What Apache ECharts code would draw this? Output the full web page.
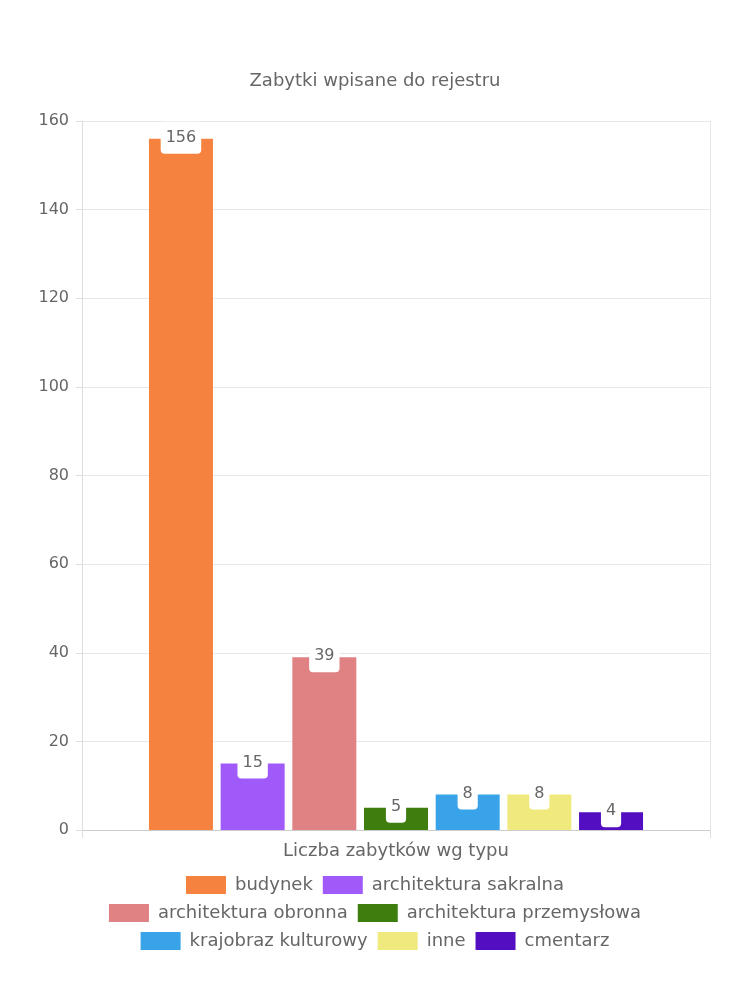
<!DOCTYPE html>
<html><head><meta charset="utf-8">
<script src="https://cdn.jsdelivr.net/npm/echarts@6/dist/echarts.min.js"></script>
<style>html,body{margin:0;padding:0;background:#fff}#c{width:750px;height:1000px}</style>
</head><body><div id="c"></div>
<script>
const titleText = 'Zabytki wpisane do rejestru';
const categories = ['Liczba zabytków wg typu'];
const seriesNames = ['budynek','architektura sakralna','architektura obronna','architektura przemysłowa','krajobraz kulturowy','inne','cmentarz'];
const seriesValues = [156, 15, 39, 5, 8, 8, 4];
const seriesColors = ['#f5833f','#a05afa','#e08284','#3e7e0e','#38a3e9','#f0ea7e','#520ec0'];
const legendRows = [[0,1],[2,3],[4,5,6]];
const yTicks = {min:0, max:160, interval:20};

const FONT = 'DejaVu Sans';
const TXT = '#666';
const FS = 18;
const NUMFS = 16;
const chart = echarts.init(document.getElementById('c'));
const legendTops = [876, 904, 932];
chart.setOption({
  animation:false,
  textStyle:{fontFamily:FONT},
  title:{text:titleText,left:'center',top:67,textStyle:{fontFamily:FONT,fontSize:FS,fontWeight:'normal',color:TXT}},
  grid:{left:82,right:40,top:121,bottom:170,containLabel:false},
  legend: legendRows.map((r,i)=>({
    data:r.map(k=>seriesNames[k]), left:'center', top:legendTops[i], itemWidth:40, itemHeight:18, itemGap:10,
    icon:'rect', padding:0, textStyle:{fontFamily:FONT,fontSize:FS,color:TXT,padding:[0,0,0,4]}, selectedMode:false
  })),
  xAxis:{type:'category',data:categories,
    axisLine:{lineStyle:{color:'#ccc'}},axisTick:{show:true,length:8,lineStyle:{color:'#ddd'}},
    splitLine:{show:true,lineStyle:{color:'#e5e5e5'}},
    axisLabel:{fontFamily:FONT,fontSize:FS,color:TXT,margin:12}},
  yAxis:{type:'value',min:yTicks.min,max:yTicks.max,interval:yTicks.interval,
    axisLine:{show:true,lineStyle:{color:'#ddd'}},axisTick:{show:true,length:6,lineStyle:{color:'#ddd'}},
    splitLine:{lineStyle:{color:'#e8e8e8'}},
    axisLabel:{fontFamily:FONT,fontSize:NUMFS,color:TXT,margin:13}},
  series: seriesNames.map((n,i)=>({
    name:n,type:'bar',data:[seriesValues[i]],barWidth:64,barGap:'12%',
    itemStyle:{color:seriesColors[i]},
    label:{show:true,position:['50%',-1],align:'center',verticalAlign:'middle',
      fontFamily:FONT,fontSize:NUMFS,color:TXT,backgroundColor:'#fff',borderRadius:4,padding:[8,5]}
  }))
});
</script></body></html>
